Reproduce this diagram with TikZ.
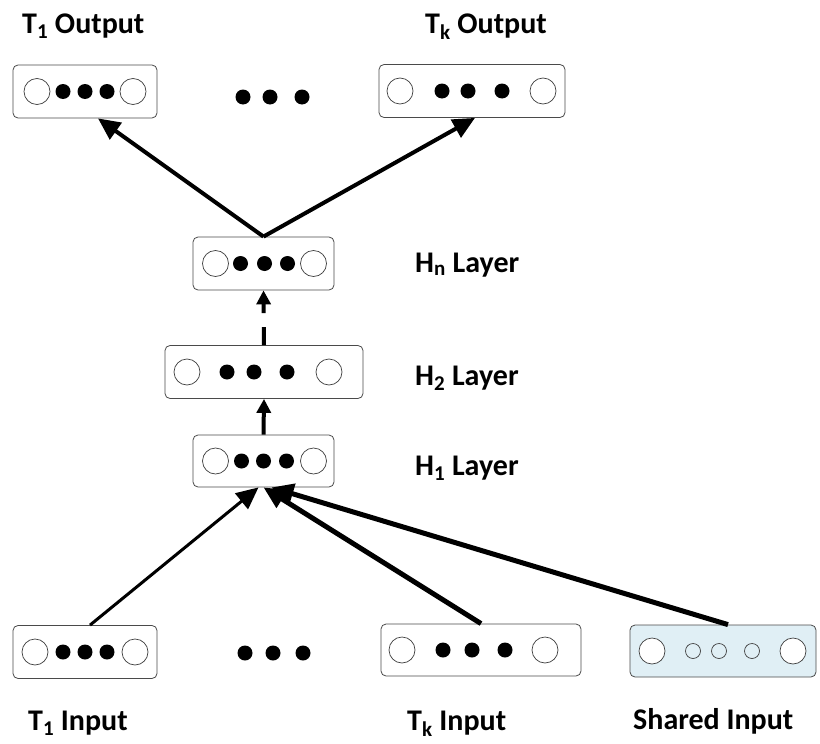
\documentclass[tikz,border=0pt]{standalone}
\usepackage{fontspec}
\setmainfont{Carlito}
\usetikzlibrary{arrows.meta,positioning,calc}
\definecolor{edge}{HTML}{4A4A4A}
\definecolor{sharedfill}{HTML}{E0EFF5}

\tikzset{
  layer/.style={draw=edge, line width=0.8pt, rounded corners=5pt, minimum height=53pt, inner sep=0pt},
  bigu/.style={draw=black!75, line width=0.7pt, fill=white, radius=13pt},
  smallu/.style={draw=black!75, line width=0.7pt, radius=7.5pt},
  dotu/.style={fill=black, radius=7.5pt},
  lbl/.style={font=\fontsize{30}{36}\selectfont\bfseries, inner sep=0pt, anchor=base west},
  feed/.style={line width=4pt, -{Triangle[length=22pt,width=20pt]}},
  lift/.style={line width=4pt, -{Triangle[length=14pt,width=14pt]}},
}

% units of a layer: offset from the box centre / kind
\newcommand{\layerunits}[2]{%
  \foreach \dx/\kind in {#2}
    \path[\kind] ([xshift=\dx pt]#1.center) circle;
}

\begin{document}
\begin{tikzpicture}[x=1pt, y=-1pt]
  \useasboundingbox (0,0) rectangle (820,744);

  % outputs
  \node[layer, minimum width=144pt] (t1out) at (85,91.5) {};
  \node[layer, minimum width=186pt] (tkout) at (472,91) {};
  \layerunits{t1out}{-48/bigu,-22/dotu,0/dotu,22/dotu,48/bigu}
  \layerunits{tkout}{-72/bigu,-30/dotu,-4/dotu,30/dotu,71/bigu}
  \foreach \x in {243,270,302} \fill (\x,97) circle (7.5pt);

  % hidden layers
  \node[layer, minimum width=141pt] (hn) at (263.5,263.5) {};
  \node[layer, minimum width=198pt] (h2) at (264,372) {};
  \node[layer, minimum width=141pt, minimum height=52pt] (h1) at (263.5,461) {};
  \layerunits{hn}{-48/bigu,-23/dotu,1/dotu,24/dotu,50/bigu}
  \layerunits{h2}{-77/bigu,-37/dotu,-10/dotu,23/dotu,65/bigu}
  \layerunits{h1}{-48/bigu,-22/dotu,0/dotu,23/dotu,50/bigu}

  % inputs
  \node[layer, minimum width=144pt] (t1in) at (85,652) {};
  \node[layer, minimum width=200pt, minimum height=52pt] (tkin) at (481,650) {};
  \node[layer, minimum width=186pt, minimum height=52pt, fill=sharedfill] (shin) at (723,651) {};
  \layerunits{t1in}{-50/bigu,-22/dotu,0/dotu,22/dotu,50/bigu}
  \layerunits{tkin}{-79/bigu,-38/dotu,-9/dotu,24/dotu,64/bigu}
  \layerunits{shin}{-71/bigu,-30/smallu,-4/smallu,29/smallu,70/bigu}
  \foreach \x in {245,273,303} \fill (\x,653) circle (7.5pt);

  % labels
  \node[lbl] (t1outlbl) at (22,33) {T\textsubscript{1} Output};
  \node[lbl] (tkoutlbl) at (425,33) {T\textsubscript{k} Output};
  \node[lbl] (hnlbl) at (415,272) {H\textsubscript{n} Layer};
  \node[lbl] (h2lbl) at (415,385) {H\textsubscript{2} Layer};
  \node[lbl] (h1lbl) at (415,475) {H\textsubscript{1} Layer};
  \node[lbl] (t1inlbl) at (28,730) {T\textsubscript{1} Input};
  \node[lbl] (tkinlbl) at (407,730) {T\textsubscript{k} Input};
  \node[lbl] (shinlbl) at (633,729) {Shared Input};

  % connections
  \draw[feed] (hn.north) -- ([xshift=13pt]t1out.south);
  \draw[feed] (hn.north) -- ([xshift=3pt]tkout.south);
  \draw[lift, dash pattern=on 18pt off 14pt] (h2.north) -- (hn.south);
  \draw[lift] (h1.north) -- (h2.south);
  \draw[feed, line width=3pt] ([xshift=5pt]t1in.north) -- ([xshift=-5pt]h1.south);
  \draw[feed, line width=5pt] (tkin.north) -- (h1.south);
  \draw[feed, line width=5pt] ([xshift=5pt]shin.north) -- ([xshift=8pt]h1.south);
\end{tikzpicture}
\end{document}
